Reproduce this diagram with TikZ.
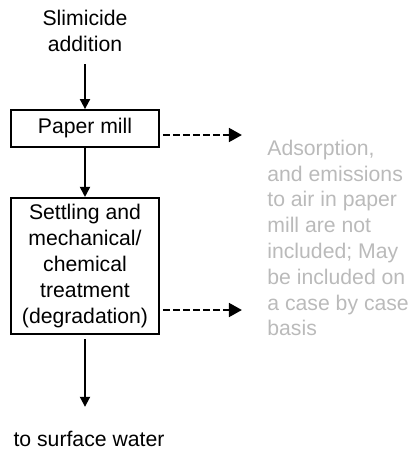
\documentclass[tikz,border=0pt]{standalone}
\usepackage{fontspec}
\setmainfont{Liberation Sans}
\usetikzlibrary{arrows.meta}
\tikzstyle{process} = [rectangle, minimum width=74pt, minimum height=18.5pt, text centered, align=center, draw=black, line width=0.9pt]
\tikzstyle{plain} = [align=center, inner sep=6pt]
\tikzstyle{note} = [align=left, text=black!27, inner sep=0pt, anchor=west]
\tikzstyle{arrow} = [line width=0.9pt, -{Triangle[length=5pt, width=5pt]}]
\tikzstyle{leak} = [line width=0.9pt, dash pattern=on 3.5pt off 1.5pt, -{Triangle[length=6.5pt, width=7pt]}]

\begin{document}
\begin{tikzpicture}[node distance=48.75pt, font=\fontsize{10.6}{12.9}\selectfont]
    \useasboundingbox (0,0) rectangle (206.5pt,-225.5pt);
    % Nodes
    \node (slim) [plain] at (42.5pt,-15.5pt) {Slimicide\\addition};
    \node (mill) [process, below of=slim] {Paper mill};
    \node (treat) [process, below of=mill, yshift=-20pt, minimum height=68pt] {Settling and\\mechanical/\\chemical\\treatment\\(degradation)};
    \node (water) [plain, below of=treat, xshift=2pt, yshift=-37.75pt, inner ysep=12pt] {to surface water};
    \node (note) [note] at (133.5pt,-119pt) {Adsorption,\\and emissions\\to air in paper\\mill are not\\included; May\\be included on\\a case by case\\basis};
    \coordinate (out1) at ([xshift=41pt, yshift=-3.25pt]mill.east);
    \coordinate (out2) at ([xshift=41pt, yshift=-22pt]treat.east);

    % Arrows
    \draw [arrow] (slim) -- (mill);
    \draw [arrow] (mill) -- (treat);
    \draw [arrow, shorten <=2pt] (treat) -- (treat |- water.north);
    \draw [leak] ([xshift=1.5pt, yshift=-3.25pt]mill.east) -- (out1);
    \draw [leak] ([xshift=1.5pt, yshift=-22pt]treat.east) -- (out2);
\end{tikzpicture}
\end{document}
